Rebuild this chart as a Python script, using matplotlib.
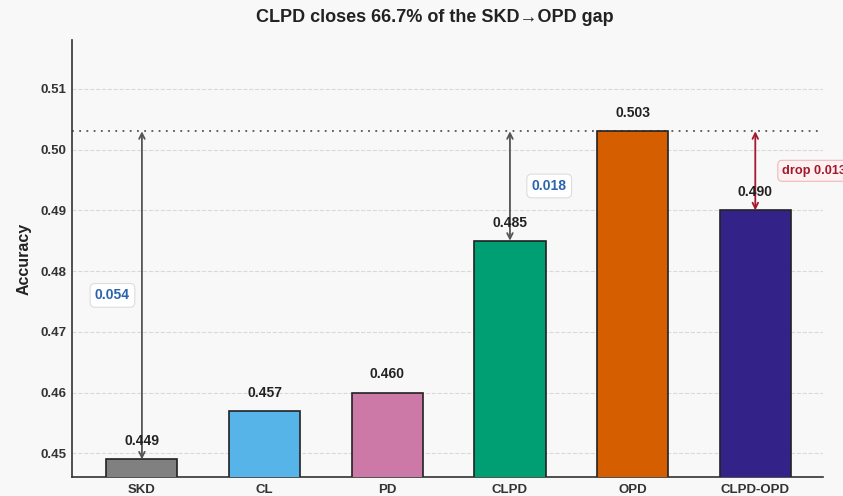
import numpy as np
import matplotlib
matplotlib.use("Agg")
import matplotlib.pyplot as plt

plt.rcParams['font.family'] = ['Liberation Sans', 'DejaVu Sans']

############### Data ################
methods = ['SKD', 'CL', 'PD', 'CLPD', 'OPD', 'CLPD-OPD']
accuracy = [0.449, 0.457, 0.460, 0.485, 0.503, 0.490]
colors = ['#808080', '#56B4E9', '#CC79A7', '#009E73', '#D55E00', '#332288']
opd_ref = 0.503

bg = '#f8f8f8'
fig = plt.figure(figsize=(8.43, 4.96), dpi=100, facecolor=bg)
ax = fig.add_axes([0.0854, 0.0383, 0.8906, 0.8807], facecolor=bg)

x = np.arange(len(methods))
ax.bar(x, accuracy, width=0.58, color=colors, edgecolor='#222222', linewidth=1.2, zorder=3)

for xi, v in zip(x, accuracy):
    ax.annotate('%.3f' % v, (xi, v), xytext=(0, 8), textcoords='offset points',
                ha='center', va='bottom', fontsize=10, fontweight='bold', color='#222222', zorder=5)

ax.axhline(opd_ref, color='#555555', linestyle=(0, (1, 3)), linewidth=1.3, zorder=2)

# gap arrows
def gap_arrow(xi, lo, hi, col, label, dx, tcol, fc, ec, ha='center', fs=10):
    ax.annotate('', xy=(xi, hi), xytext=(xi, lo),
                arrowprops=dict(arrowstyle='<->', color=col, lw=1.3, shrinkA=0, shrinkB=0), zorder=4)
    ax.text(xi + dx, (lo + hi) / 2, label, ha=ha, va='center', fontsize=fs, fontweight='bold',
            color=tcol, zorder=6, clip_on=False,
            bbox=dict(boxstyle='round,pad=0.35', fc=fc, ec=ec, lw=0.8))

gap_arrow(0, accuracy[0], opd_ref, '#555555', '%.3f' % (opd_ref - accuracy[0]), -0.24,
          '#2a62b0', 'white', '#dddddd')
gap_arrow(3, accuracy[3], opd_ref, '#555555', '%.3f' % (opd_ref - accuracy[3]), 0.32,
          '#2a62b0', 'white', '#dddddd')
gap_arrow(5, accuracy[5], opd_ref, '#a3182b', 'drop %.3f' % (opd_ref - accuracy[5]), 0.22,
          '#a3182b', '#fdf1f1', '#f0b8bc', ha='left', fs=9.2)

ax.set_xlim(-0.57, 5.55)
ax.set_ylim(0.4461, 0.518)
ax.set_yticks([0.45, 0.46, 0.47, 0.48, 0.49, 0.50, 0.51])
ax.set_yticklabels(['%.2f' % t for t in ax.get_yticks()])
ax.set_xticks(x)
ax.set_xticklabels(methods)
for lab in ax.get_xticklabels() + ax.get_yticklabels():
    lab.set_fontweight('bold')
    lab.set_color('#333333')
    lab.set_fontsize(9.5)
ax.tick_params(axis='y', length=0, pad=4)
ax.tick_params(axis='x', length=0, pad=5)

ax.grid(axis='y', linestyle='--', color='#d9d9d9', linewidth=0.8, zorder=0)
ax.spines['top'].set_visible(False)
ax.spines['right'].set_visible(False)
ax.spines['left'].set_color('#333333')
ax.spines['bottom'].set_color('#333333')
ax.spines['left'].set_linewidth(1.2)
ax.spines['bottom'].set_linewidth(1.2)

ax.set_ylabel('Accuracy', fontsize=11.5, fontweight='bold', color='#222222', labelpad=6)
fig.suptitle('CLPD closes 66.7% of the SKD\u2192OPD gap', x=0.516, y=0.982,
             fontsize=13, fontweight='bold', color='#222222')

fig.savefig('out.png', dpi=100, facecolor=bg)
